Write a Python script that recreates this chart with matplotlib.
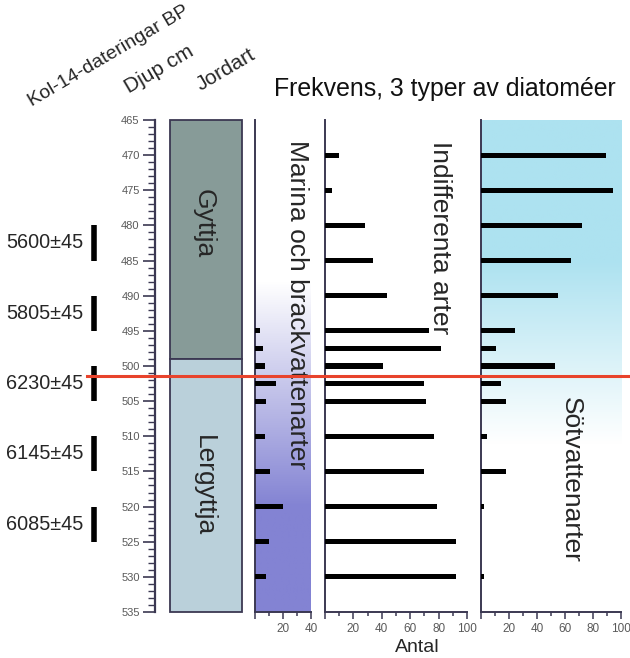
import numpy as np
import matplotlib
matplotlib.use("Agg")
import matplotlib.pyplot as plt
from matplotlib.ticker import MultipleLocator, FuncFormatter
from matplotlib.transforms import blended_transform_factory

plt.rcParams['font.family'] = ['Liberation Sans', 'DejaVu Sans']

# ---------------- data ----------------
depths = [470, 475, 480, 485, 490, 495, 497.5, 500, 502.5, 505, 510, 515, 520, 525, 530]
marina = [0, 0, 0, 0, 0, 3.5, 6, 7, 15, 8, 7, 11, 20, 10, 7.5]
indifferenta = [10, 5, 28, 34, 44, 73, 82, 41, 70, 71, 77, 70, 79, 92, 92]
sotvatten = [89, 94, 72, 64, 55, 24, 11, 53, 14, 18, 4, 18, 2, 0, 2]

soil_names = ["Gyttja", "Lergyttja"]
soil_top = [465, 499]
soil_bottom = [499, 535]
soil_colors = ["#879b98", "#bad0da"]

date_labels = ["5600±45", "5805±45", "6230±45", "6145±45", "6085±45"]
date_top = [480, 490, 500, 510, 520]
date_bottom = [485, 495, 505, 515, 525]

red_line_depth = 501.4
depth_min, depth_max = 465, 535

title = "Frekvens, 3 typer av diatoméer"
panel_titles = ["Marina och brackvattenarter", "Indifferenta arter", "Sötvattenarter"]

# ---------------- layout ----------------
W, H = 630, 658
fig = plt.figure(figsize=(W / 100, H / 100), dpi=100)
fig.patch.set_facecolor("white")
Y_TOP, Y_BOT = 120, 612
SPINE = "#3b3852"
TXT = "#262626"
TICKTXT = "#5a5a5a"
BIG = 19


def px_axes(x0, x1):
    return fig.add_axes([x0 / W, 1 - Y_BOT / H, (x1 - x0) / W, (Y_BOT - Y_TOP) / H])


def style_panel(ax, xmax, major, minor, lw=1.4):
    ax.set_ylim(depth_max, depth_min)
    ax.set_xlim(0, xmax)
    ax.set_facecolor("none")
    for s in ["top", "right"]:
        ax.spines[s].set_visible(False)
    for s in ["left", "bottom"]:
        ax.spines[s].set_color(SPINE)
        ax.spines[s].set_linewidth(lw)
    ax.set_yticks([])
    ax.xaxis.set_major_locator(MultipleLocator(major))
    ax.xaxis.set_minor_locator(MultipleLocator(minor))
    ax.xaxis.set_major_formatter(FuncFormatter(lambda v, p: "" if v == 0 else f"{v:g}"))
    ax.tick_params(axis="x", which="major", length=5, width=1.1, color=SPINE,
                   labelsize=8.5, labelcolor=TICKTXT, pad=3)
    ax.tick_params(axis="x", which="minor", length=3, width=1.1, color=SPINE)


def gradient_image(ax, xmax, c_start, c_end, d0, d1):
    d = np.linspace(depth_min, depth_max, 400)
    t = np.clip((d - d0) / (d1 - d0), 0, 1)[:, None]
    c0 = np.array(matplotlib.colors.to_rgb(c_start))
    c1 = np.array(matplotlib.colors.to_rgb(c_end))
    img = (c0 * (1 - t) + c1 * t)[:, None, :]
    ax.imshow(img, extent=[0, xmax, depth_max, depth_min], aspect="auto",
              zorder=0, interpolation="bilinear")


# depth scale
ax_d = px_axes(155, 165)
ax_d.set_ylim(depth_max, depth_min)
ax_d.set_xlim(0, 1)
for s in ["top", "right", "bottom"]:
    ax_d.spines[s].set_visible(False)
ax_d.spines["left"].set_color(SPINE)
ax_d.spines["left"].set_linewidth(1.6)
ax_d.set_xticks([])
ax_d.yaxis.set_major_locator(MultipleLocator(5))
ax_d.yaxis.set_minor_locator(MultipleLocator(1))
ax_d.tick_params(axis="y", which="major", length=9, width=1.2, color=SPINE,
                 labelsize=8, labelcolor=TICKTXT, pad=2)
ax_d.tick_params(axis="y", which="minor", length=5, width=1.0, color=SPINE)
ax_d.patch.set_visible(False)

# soil column
ax_s = px_axes(170, 242)
ax_s.set_ylim(depth_max, depth_min)
ax_s.set_xlim(0, 1)
ax_s.axis("off")
heights = [b - t for t, b in zip(soil_top, soil_bottom)]
ax_s.bar([0.5] * len(soil_names), heights, bottom=soil_top, width=1.0,
         color=soil_colors, edgecolor=SPINE, linewidth=1.3, clip_on=False)
for name, t, b in zip(soil_names, soil_top, soil_bottom):
    ax_s.text(0.47, (t + b) / 2 + (0 if name == "Lergyttja" else -2.3), name,
              rotation=-90, ha="center", va="center", fontsize=BIG, color=TXT)

# marine panel
ax_m = px_axes(255, 311)
style_panel(ax_m, 40, 20, 10)
gradient_image(ax_m, 40, "#ffffff", "#8383d3", 488, 520)
ax_m.barh(depths, marina, height=0.75, color="black", zorder=3)
ax_m.text(30, 491.3, panel_titles[0], rotation=-90, ha="center", va="center",
          fontsize=BIG, color=TXT, zorder=4)

# indifferent panel
ax_i = px_axes(325, 467)
style_panel(ax_i, 100, 20, 10)
ax_i.barh(depths, indifferenta, height=0.75, color="black", zorder=3)
ax_i.text(81, 481.7, panel_titles[1], rotation=-90, ha="center", va="center",
          fontsize=BIG, color=TXT, zorder=4)
ax_i.set_xlabel("Antal", fontsize=14, color=TXT, labelpad=1)
ax_i.xaxis.set_label_coords(0.65, -0.055)

# fresh water panel
ax_f = px_axes(481, 621)
style_panel(ax_f, 100, 20, 10)
gradient_image(ax_f, 100, "#ade2f0", "#ffffff", 485, 511)
ax_f.barh(depths, sotvatten, height=0.75, color="black", zorder=3)
ax_f.text(64, 516.2, panel_titles[2], rotation=-90, ha="center", va="center",
          fontsize=BIG, color=TXT, zorder=4)

# dates
ax_t = px_axes(0, 150)
ax_t.set_ylim(depth_max, depth_min)
ax_t.set_xlim(0, 150)
ax_t.axis("off")
ax_t.vlines([94] * len(date_labels), date_top, date_bottom, color="black", linewidth=4)
for lab, t, b in zip(date_labels, date_top, date_bottom):
    ax_t.text(83, (t + b) / 2, lab, ha="right", va="center", fontsize=14.3, color=TXT)

# headers
fig.text(32 / W, 1 - 107 / H, "Kol-14-dateringar BP", rotation=30.5, rotation_mode="anchor",
         ha="left", va="baseline", fontsize=14, color=TXT)
fig.text(129 / W, 1 - 94 / H, "Djup cm", rotation=30.5, rotation_mode="anchor",
         ha="left", va="baseline", fontsize=15, color=TXT)
fig.text(201 / W, 1 - 91 / H, "Jordart", rotation=30.5, rotation_mode="anchor",
         ha="left", va="baseline", fontsize=15, color=TXT)
fig.text(274 / W, 1 - 96 / H, title, ha="left", va="baseline", fontsize=17.9, color="#111111")

# red marker line
tr = blended_transform_factory(fig.transFigure, ax_d.transData)
fig.add_artist(matplotlib.lines.Line2D([87 / W, 1.0], [red_line_depth, red_line_depth],
                                       transform=tr, color="#e8432c", linewidth=2.2, zorder=10))

fig.savefig("out.png", dpi=100, facecolor="white")
